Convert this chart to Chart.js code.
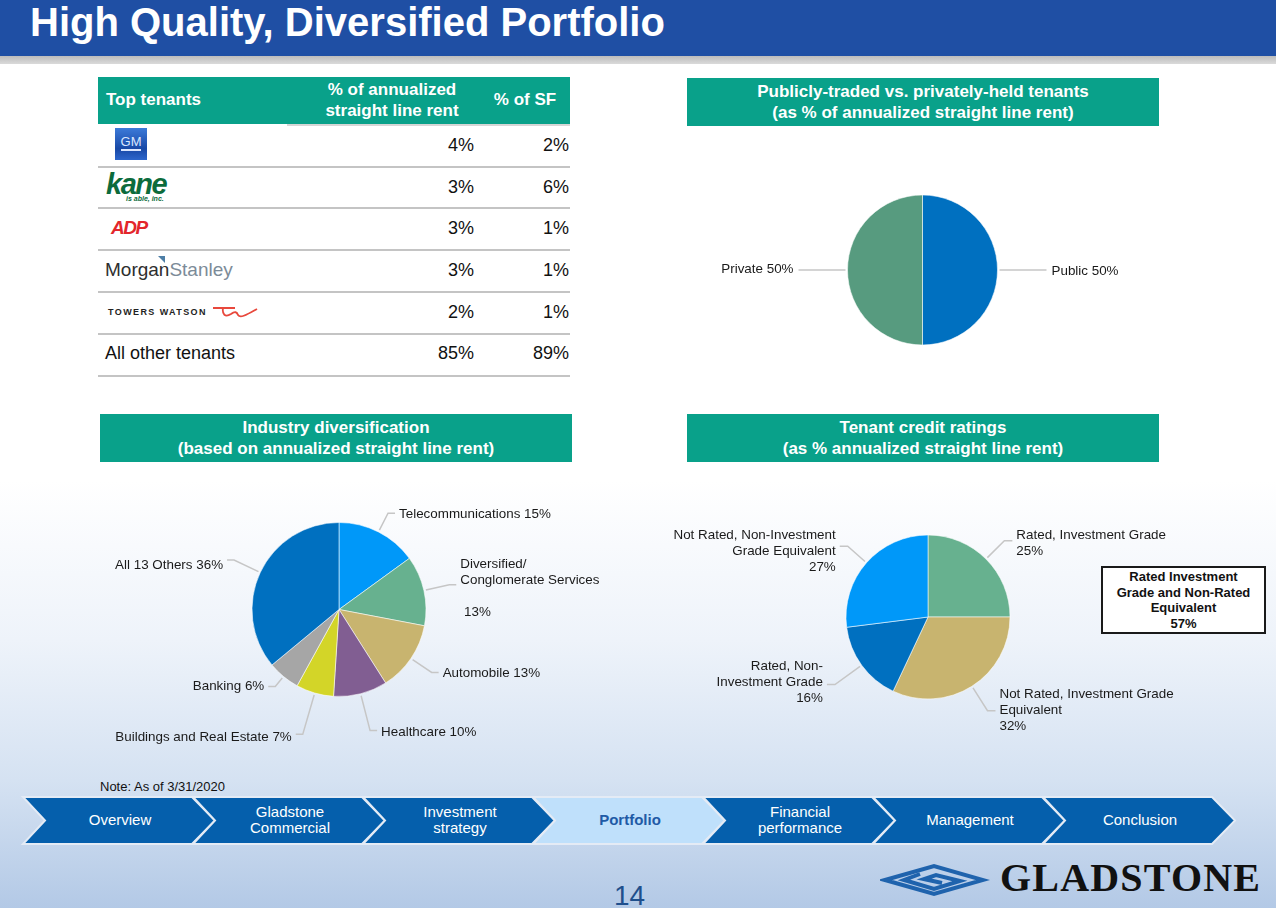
<!DOCTYPE html>
<html>
<head>
<meta charset="utf-8">
<script src="https://cdn.jsdelivr.net/npm/chart.js@4.4.0/dist/chart.umd.min.js"></script>
<style>
  body {
    margin: 0; width: 1276px; height: 908px; overflow: hidden; position: relative;
    font-family: "Liberation Sans", Arial, sans-serif; color: #111;
    background: linear-gradient(to bottom, #fff 0, #fff 480px, #eef3fa 640px, #d5e2f2 780px, #b3c9e6 908px);
  }
  .abs { position: absolute; white-space: nowrap; }
  #topbar { left: 0; top: 0; width: 1276px; height: 56px; background: #1f4fa4; }
  #strip { left: 0; top: 56px; width: 1276px; height: 8px; background: linear-gradient(#bcbcbc, #dadada); }
  #title { left: 30px; top: -1px; line-height: 46px; color: #fff; font-weight: bold; font-size: 40px; }
  .hdr { background: #09a18a; color: #fff; font-weight: bold; font-size: 17px; line-height: 21px;
         text-align: center; display: flex; align-items: center; justify-content: center; }
  .cell { font-size: 18px; line-height: 20px; }
  .rule { height: 2px; background: #c4c4c4; }
  canvas.abs { display: block; }
  .nav { color: #fff; font-size: 15px; line-height: 16px; text-align: center; width: 160px; }
</style>
</head>
<body>
<div id="topbar" class="abs"></div>
<div id="strip" class="abs"></div>
<div id="title" class="abs">High Quality, Diversified Portfolio</div>

<!-- table -->
<div class="abs hdr" style="left:98px;top:77px;width:472px;height:47px;"></div>
<div class="abs" style="left:106px;top:90px;color:#fff;font-weight:bold;font-size:17px;line-height:20px;">Top tenants</div>
<div class="abs" style="left:292px;top:79px;width:200px;color:#fff;font-weight:bold;font-size:17px;line-height:21px;text-align:center;">% of annualized<br>straight line rent</div>
<div class="abs" style="left:480px;top:90px;width:90px;color:#fff;font-weight:bold;font-size:17px;line-height:20px;text-align:center;">% of SF</div>
<div class="abs" style="left:287px;top:124px;width:283px;height:2px;background:#d6d6d6;"></div>
<div id="rows"></div>

<div class="abs hdr" style="left:687px;top:78px;width:472px;height:48px;">Publicly-traded vs. privately-held tenants<br>(as % of annualized straight line rent)</div>
<div class="abs hdr" style="left:100px;top:414px;width:472px;height:48px;">Industry diversification<br>(based on annualized straight line rent)</div>
<div class="abs hdr" style="left:687px;top:414px;width:472px;height:48px;">Tenant credit ratings<br>(as % annualized straight line rent)</div>

<canvas id="pubChart" class="abs"></canvas>
<canvas id="indChart" class="abs"></canvas>
<canvas id="credChart" class="abs"></canvas>

<div id="ratedBox" class="abs" style="left:1101px;top:566px;width:161px;height:64px;border:2px solid #1a1a1a;background:#fff;
  font-weight:bold;font-size:13px;line-height:15.5px;text-align:center;display:flex;align-items:center;justify-content:center;"></div>

<div class="abs" style="left:100px;top:779px;font-size:13px;line-height:16px;">Note: As of 3/31/2020</div>

<svg id="navSvg" class="abs" style="left:0;top:790px;" width="1276" height="60"></svg>
<div id="navText"></div>

<svg class="abs" style="left:880px;top:862px;" width="110" height="36">
  <g fill="none" stroke="#1f63ad" stroke-width="4" stroke-linejoin="miter">
    <polygon points="5,18 54,4 103,18 54,32"/>
    <polyline points="40,12 24,18 54,27 80,19 56,13 44,17 62,21"/>
  </g>
</svg>
<div class="abs" style="left:1000px;top:858px;font-family:'Liberation Serif','Times New Roman',serif;font-weight:bold;font-size:40px;line-height:40px;color:#111;letter-spacing:1.2px;">GLADSTONE</div>
<div class="abs" style="left:614px;top:882px;font-size:28px;line-height:28px;color:#1f4f8c;">14</div>

<script>
// --- Datos ---
const tenantNames = ['GM', 'Kane Is Able', 'ADP', 'Morgan Stanley', 'Towers Watson', 'All other tenants'];
const rentShare = [4, 3, 3, 3, 2, 85];
const sfShare = [2, 6, 1, 1, 1, 89];

const ownershipLabels = ['Public', 'Private'];
const ownershipValues = [50, 50];
const ownershipColors = ['#0070c0', '#579b7f'];

const industryLabels = ['Telecommunications', 'Diversified/\nConglomerate Services', 'Automobile', 'Healthcare',
                        'Buildings and Real Estate', 'Banking', 'All 13 Others'];
const industryValues = [15, 13, 13, 10, 7, 6, 36];
const industryColors = ['#0098f9', '#67b18f', '#c8b46f', '#815e92', '#d3d528', '#a6a6a6', '#0070c0'];

const creditLabels = ['Rated, Investment Grade', 'Not Rated, Investment Grade\nEquivalent',
                      'Rated, Non-\nInvestment Grade', 'Not Rated, Non-Investment\nGrade Equivalent'];
const creditValues = [25, 32, 16, 27];
const creditColors = ['#67b18f', '#c8b46f', '#0070c0', '#0098f9'];

const navItems = ['Overview', 'Gladstone\nCommercial', 'Investment\nstrategy', 'Portfolio',
                  'Financial\nperformance', 'Management', 'Conclusion'];
const activeNav = 3;

document.addEventListener('DOMContentLoaded', () => {
    buildTable();
    buildNav();
    document.getElementById('ratedBox').innerHTML =
        'Rated Investment<br>Grade and Non-Rated<br>Equivalent<br>' + (creditValues[0] + creditValues[1]) + '%';

    makePie('pubChart', { x: 690, y: 180, w: 470, h: 180 }, 922.5, 270, 75,
        ownershipLabels, ownershipValues, ownershipColors,
        { ext: [100, 100], dy: [1, -1], hlen: 24, gap: 5, text: (l, v) => [l + ' ' + v + '%'] });

    makePie('indChart', { x: 100, y: 495, w: 520, h: 250 }, 339, 609.5, 87,
        industryLabels, industryValues, industryColors,
        { ext: [108, 113, 112, 125, 130, 100, 116], dy: [1, 3, 1, 2, 3, 0, 5], hlen: 7, gap: 4,
          text: (l, v) => {
              const parts = l.split('\n');
              return parts.length > 1 ? [...parts, '', ' ' + v + '%'] : [l + ' ' + v + '%'];
          } });

    makePie('credChart', { x: 660, y: 515, w: 520, h: 220 }, 928, 617, 82,
        creditLabels, creditValues, creditColors,
        { ext: [108, 111, 115, 107], dy: [3, 0, -2, 5], hlen: 8, gap: 4, text: (l, v) => [...l.split('\n'), v + '%'] });
});

/* --- Tabla de inquilinos --- */
function logoHtml(i) {
    switch (i) {
        case 0:
            return '<div class="abs" style="left:115px;top:-17px;width:32px;height:32px;background:linear-gradient(#3c7ad9,#1848a6 65%,#2d66cc);' +
                   'color:#dbe7ff;font-family:\'Liberation Sans Narrow\',Arial;font-size:13px;line-height:16px;text-align:center;padding-top:6px;box-sizing:border-box;">' +
                   '<span style="border-bottom:2px solid #dbe7ff;">GM</span></div>';
        case 1:
            return '<div class="abs" style="left:106px;top:-16px;font-weight:bold;font-style:italic;font-size:29px;line-height:26px;color:#0c6b3c;letter-spacing:-1.5px;">kane</div>' +
                   '<div class="abs" style="left:126px;top:8px;font-weight:bold;font-style:italic;font-size:7px;line-height:8px;color:#0c6b3c;">is able, inc.</div>';
        case 2:
            return '<div class="abs" style="left:111px;top:-10px;font-weight:bold;font-style:italic;font-size:19px;line-height:20px;color:#e3262c;letter-spacing:-1.5px;">ADP</div>';
        case 3:
            return '<div class="abs" style="left:105px;top:-11px;font-size:19px;line-height:22px;"><span style="color:#2e2e2e">Morgan</span><span style="color:#7c8b98">Stanley</span></div>' +
                   '<svg class="abs" style="left:158px;top:-14px;" width="8" height="8"><polygon points="0,0 7,0 7,7" fill="#4d7ea6"/></svg>';
        case 4:
            return '<div class="abs" style="left:108px;top:-5px;font-weight:bold;font-size:9px;line-height:10px;letter-spacing:1.4px;color:#222;">TOWERS WATSON</div>' +
                   '<svg class="abs" style="left:211px;top:-8px;" width="50" height="16"><path d="M2,4 L24,4 M12,4 C11,10 14,14 20,10 C24,7 26,8 27,11 C29,14 34,12 46,5" fill="none" stroke="#e8483c" stroke-width="1.8"/></svg>';
        default:
            return '<div class="abs cell" style="left:105px;top:-10px;">' + tenantNames[i] + '</div>';
    }
}

function buildTable() {
    const rows = document.getElementById('rows');
    const centers = [145, 187, 228, 270, 312, 353];
    const rules = [166, 207, 249, 291, 333, 375];
    let html = '';
    tenantNames.forEach((name, i) => {
        html += '<div class="abs" style="left:0;top:' + centers[i] + 'px;width:0;height:0;">' +
                logoHtml(i) +
                '<div class="abs cell" style="left:380px;top:-10px;width:94px;text-align:right;">' + rentShare[i] + '%</div>' +
                '<div class="abs cell" style="left:475px;top:-10px;width:94px;text-align:right;">' + sfShare[i] + '%</div>' +
                '</div>';
        html += '<div class="abs rule" style="left:98px;top:' + rules[i] + 'px;width:472px;"></div>';
    });
    rows.innerHTML = html;
}

/* --- Barra de navegación --- */
function buildNav() {
    const svg = document.getElementById('navSvg');
    const text = document.getElementById('navText');
    let shapes = '', labels = '';
    navItems.forEach((item, i) => {
        const L = 23 + i * 170;
        const top = 7, bot = 54, mid = 30.5;
        const pts = [[L, top], [L + 169, top], [L + 192, mid], [L + 169, bot], [L, bot], [L + 22, mid]]
            .map(p => p.join(',')).join(' ');
        shapes += '<polygon points="' + pts + '" fill="' + (i === activeNav ? '#bfe0fb' : '#055fac') +
                  '" stroke="#e4ebf5" stroke-width="2"/>';
        const lines = item.split('\n');
        const active = i === activeNav;
        labels += '<div class="abs nav" style="left:' + (L + 17) + 'px;top:' + (820 - lines.length * 8) + 'px;' +
                  (active ? 'color:#1f5aa6;font-weight:bold;' : '') + '">' + lines.join('<br>') + '</div>';
    });
    svg.innerHTML = shapes;
    text.innerHTML = labels;
}

/* --- Gráficos circulares --- */
const leaderLines = {
    id: 'leaderLines',
    afterDatasetsDraw(chart, args, opts) {
        const ctx = chart.ctx;
        const meta = chart.getDatasetMeta(0);
        const values = chart.data.datasets[0].data;
        ctx.save();
        ctx.font = '13.4px "Liberation Sans", Arial, sans-serif';
        ctx.strokeStyle = '#c6c6c6';
        ctx.lineWidth = 1.5;
        ctx.fillStyle = '#1a1a1a';
        ctx.textBaseline = 'middle';
        meta.data.forEach((arc, i) => {
            const p = arc.getProps(['x', 'y', 'startAngle', 'endAngle', 'outerRadius'], true);
            const mid = (p.startAngle + p.endAngle) / 2;
            const cos = Math.cos(mid), sin = Math.sin(mid);
            const sx = p.x + cos * (p.outerRadius + 2), sy = p.y + sin * (p.outerRadius + 2);
            const ex = p.x + cos * opts.ext[i], ey = p.y + sin * opts.ext[i];
            const dir = cos >= 0 ? 1 : -1;
            const hx = ex + dir * opts.hlen;
            ctx.beginPath();
            ctx.moveTo(sx, sy);
            ctx.lineTo(ex, ey);
            ctx.lineTo(hx, ey);
            ctx.stroke();
            const lines = opts.text(chart.data.labels[i], values[i], i);
            ctx.textAlign = dir > 0 ? 'left' : 'right';
            const lh = 16;
            const y0 = ey + (opts.dy ? opts.dy[i] : 0) - (lines.length - 1) * lh / 2;
            lines.forEach((t, k) => ctx.fillText(t, hx + dir * opts.gap, y0 + k * lh));
        });
        ctx.restore();
    }
};

function makePie(id, box, cx, cy, r, labels, values, colors, labelOpts) {
    const cv = document.getElementById(id);
    cv.style.left = box.x + 'px';
    cv.style.top = box.y + 'px';
    cv.style.width = box.w + 'px';
    cv.style.height = box.h + 'px';
    cv.width = box.w;
    cv.height = box.h;
    new Chart(cv, {
        type: 'pie',
        data: {
            labels: labels,
            datasets: [{ data: values, backgroundColor: colors, borderColor: 'rgba(255,255,255,0.55)', borderWidth: 1 }]
        },
        options: {
            responsive: false,
            animation: false,
            radius: r,
            layout: { padding: { left: cx - r - box.x, top: cy - r - box.y, right: box.x + box.w - cx - r, bottom: box.y + box.h - cy - r } },
            plugins: { legend: { display: false }, tooltip: { enabled: false }, leaderLines: labelOpts }
        },
        plugins: [leaderLines]
    });
}
</script>
</body>
</html>
